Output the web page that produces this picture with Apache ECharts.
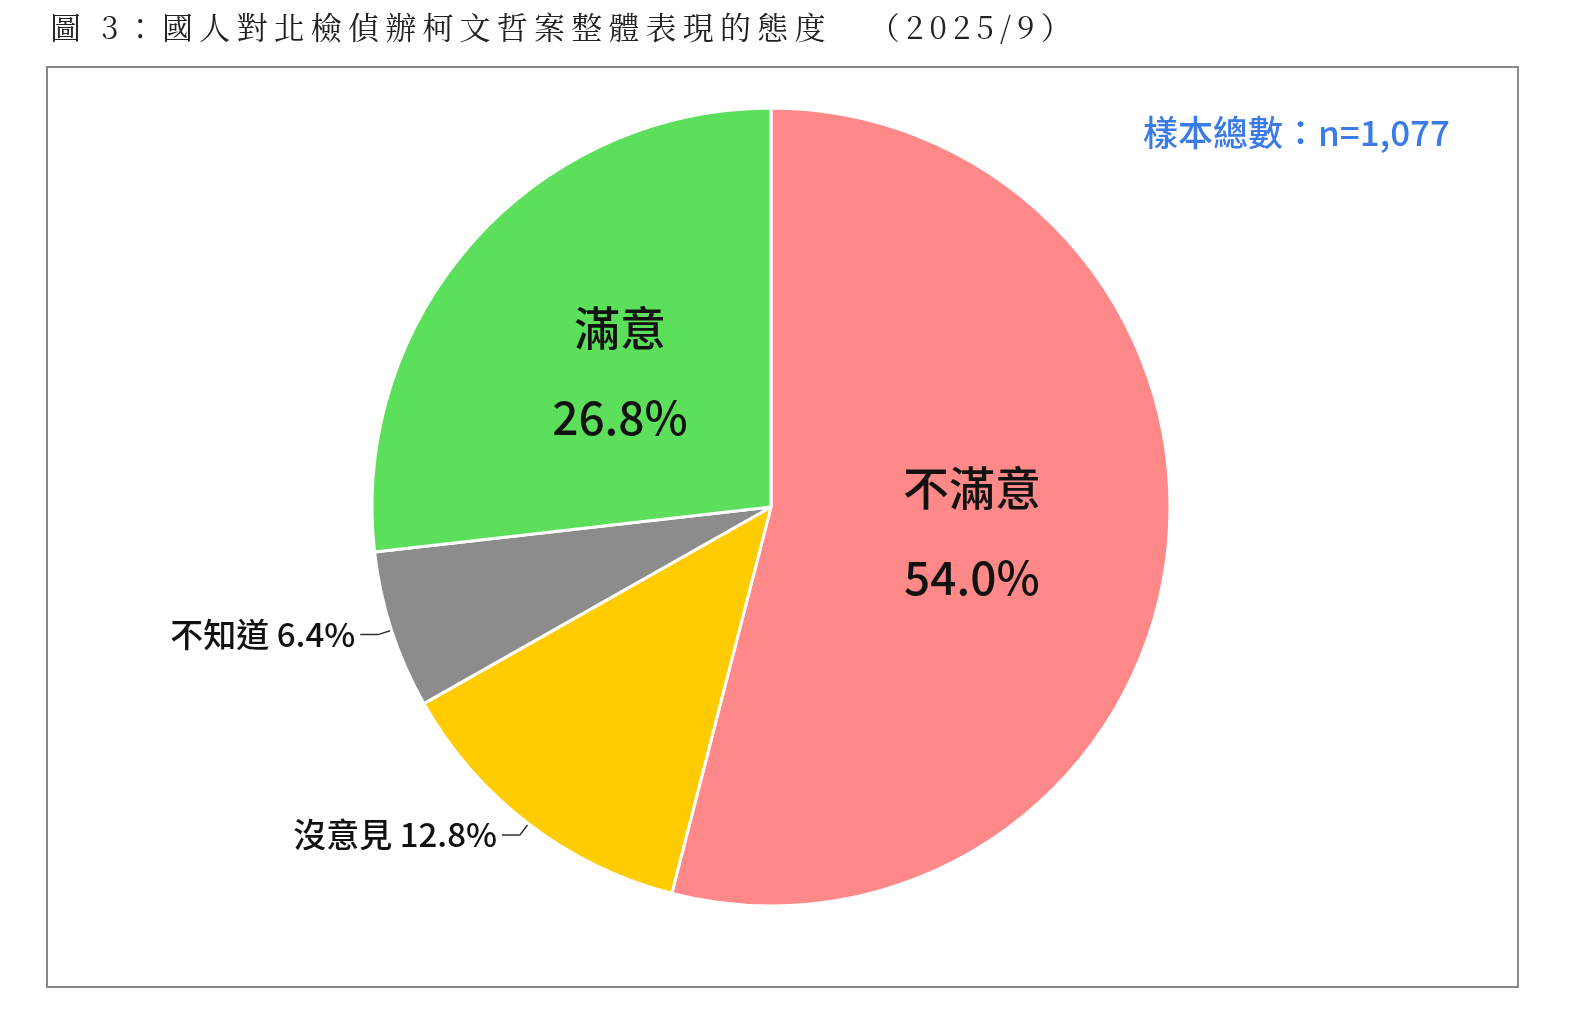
<!DOCTYPE html><html><head><meta charset="utf-8">
<script src="https://cdn.jsdelivr.net/npm/echarts@6/dist/echarts.min.js"></script>
<style>html,body{margin:0;background:#fff}#c{width:1584px;height:1033px}</style></head><body><div id="c"></div>
<script>
const categories=['不滿意','沒意見','不知道','滿意'];
const values=[54.0,12.8,6.4,26.8];
const colors=['#FF8888','#FFCC00','#8C8C8C','#5CE05C'];
const titleText='圖 3：國人對北檢偵辦柯文哲案整體表現的態度　（2025/9）';
const F='"Noto Sans CJK TC","Noto Sans",sans-serif';
const insideLbl={show:true,position:'inside',formatter:p=>p.name+'\n'+p.value.toFixed(1)+'%',fontSize:46,lineHeight:90,fontWeight:500,color:'#111',fontFamily:F};
const outLbl={show:true,position:'outside',formatter:p=>p.name+' '+p.value.toFixed(1)+'%',fontSize:33,fontWeight:500,color:'#111',fontFamily:F};
const data=categories.map((n,i)=>({name:n,value:values[i],itemStyle:{color:colors[i]},label:(i===1||i===2)?outLbl:insideLbl,labelLine:{show:i===1||i===2,length:14,length2:18,lineStyle:{color:'#333',width:1.5}}}));
const ch=echarts.init(document.getElementById('c'));
ch.setOption({animation:false,
graphic:[
{type:'text',left:50,top:12,style:{text:titleText.split('').join('\u2009'),font:'31px "Noto Serif CJK TC","Noto Sans CJK TC"',fill:'#222'}},
{type:'rect',shape:{x:47,y:67,width:1471,height:920},style:{fill:'none',stroke:'#888',lineWidth:2}},
{type:'text',right:134,top:115,style:{text:'樣本總數：n=1,077',font:'500 35px "Noto Sans CJK TC"',fill:'#3B7BE8'}}
],
series:[{type:'pie',center:[771,507],radius:[0,399],startAngle:90,clockwise:true,
itemStyle:{borderColor:'#fff',borderWidth:3},data}]});
</script></body></html>
